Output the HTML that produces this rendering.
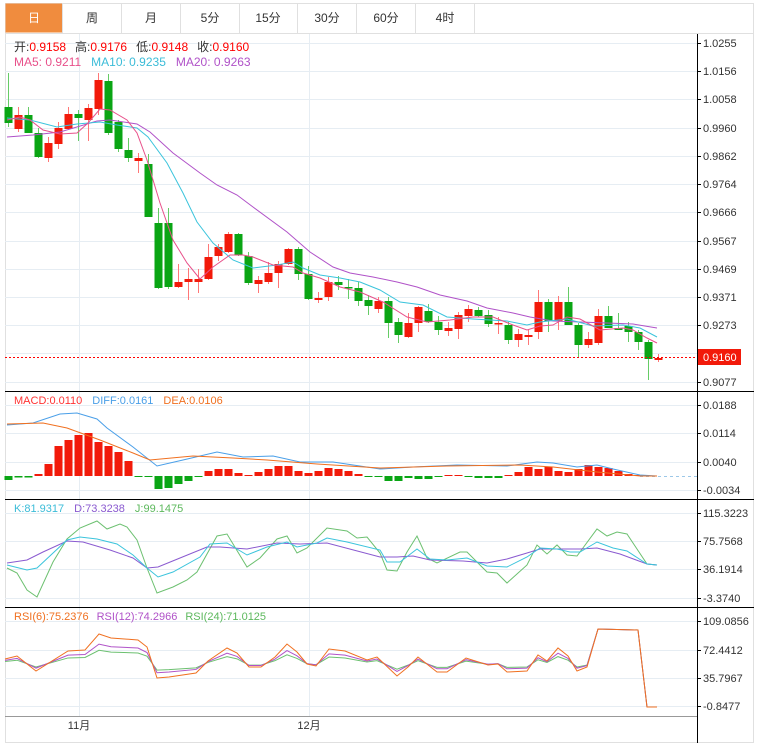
<!DOCTYPE html>
<html><head><meta charset="utf-8"><style>
body{margin:0;background:#fff;width:758px;height:743px;overflow:hidden;font-family:"Liberation Sans","Noto Sans CJK SC",sans-serif}
svg{position:absolute;left:0;top:0}
text{font-family:"Liberation Sans","Noto Sans CJK SC",sans-serif;font-size:11px}
</style></head><body>
<svg id="s" width="758" height="743" xmlns="http://www.w3.org/2000/svg">
<rect x="5.5" y="3.5" width="748" height="739" fill="#fff" stroke="#e0e0e0"/>
<rect x="5.5" y="3.5" width="57" height="29" fill="#f08c3e"/>
<g stroke="#e0e0e0"><line x1="5" y1="33.5" x2="754" y2="33.5"/>
<line x1="62.5" y1="3" x2="62.5" y2="33"/><line x1="121.5" y1="3" x2="121.5" y2="33"/><line x1="180.5" y1="3" x2="180.5" y2="33"/><line x1="239.5" y1="3" x2="239.5" y2="33"/><line x1="297.5" y1="3" x2="297.5" y2="33"/><line x1="356.5" y1="3" x2="356.5" y2="33"/><line x1="415.5" y1="3" x2="415.5" y2="33"/><line x1="474.5" y1="3" x2="474.5" y2="33"/></g>
<g text-anchor="middle"><text x="34" y="22" fill="#fff" style="font-size:12px">日</text><text x="92" y="22" fill="#333" style="font-size:12px">周</text><text x="151" y="22" fill="#333" style="font-size:12px">月</text><text x="210" y="22" fill="#333" style="font-size:12px">5分</text><text x="268" y="22" fill="#333" style="font-size:12px">15分</text><text x="327" y="22" fill="#333" style="font-size:12px">30分</text><text x="386" y="22" fill="#333" style="font-size:12px">60分</text><text x="445" y="22" fill="#333" style="font-size:12px">4时</text></g>
<g id="grid" stroke="#e6edf3"></g>
<g id="plot"></g>
<g stroke="#000"><line x1="697.5" y1="34" x2="697.5" y2="743"/>
<line x1="5" y1="391.5" x2="754" y2="391.5"/><line x1="5" y1="499.5" x2="754" y2="499.5"/><line x1="5" y1="607.5" x2="754" y2="607.5"/></g>
<line x1="5" y1="716.5" x2="697" y2="716.5" stroke="#999"/>
<g id="ax" fill="#333"></g>
<text x="14" y="51" fill="#333" style="font-size:12px">开:<tspan fill="#f00">0.9158</tspan><tspan dx="9">高:</tspan><tspan fill="#f00">0.9176</tspan><tspan dx="9">低:</tspan><tspan fill="#f00">0.9148</tspan><tspan dx="9">收:</tspan><tspan fill="#f00">0.9160</tspan></text>
<text x="14" y="66" fill="#e8508a" style="font-size:12px">MA5: 0.9211<tspan fill="#3bbcd8" dx="10">MA10: 0.9235</tspan><tspan fill="#b052c8" dx="10">MA20: 0.9263</tspan></text>
<text x="14" y="404" fill="#f33">MACD:0.0110<tspan fill="#4a9fe8" dx="10">DIFF:0.0161</tspan><tspan fill="#f07020" dx="10">DEA:0.0106</tspan></text>
<text x="14" y="512" fill="#3bbcd8">K:81.9317<tspan fill="#8a5ad0" dx="10">D:73.3238</tspan><tspan fill="#5cb85c" dx="10">J:99.1475</tspan></text>
<text x="14" y="620" fill="#f07020">RSI(6):75.2376<tspan fill="#b052c8" dx="8">RSI(12):74.2966</tspan><tspan fill="#5cb85c" dx="8">RSI(24):71.0125</tspan></text>
<text x="79" y="729" text-anchor="middle" fill="#333">11月</text><text x="309" y="729" text-anchor="middle" fill="#333">12月</text>
</svg>
<script>
var NS="http://www.w3.org/2000/svg";
function el(p,t,a){var e=document.createElementNS(NS,t);for(var k in a)e.setAttribute(k,a[k]);document.getElementById(p).appendChild(e);return e;}
var grid=[43,71,99,128,156,184,212,241,269,297,325,353,382,405,433,462,490,513,541,569,598,621,650,678,706];
grid.forEach(function(y){el("grid","line",{x1:5,x2:697,y1:y+.5,y2:y+.5});});
[79,309].forEach(function(x){el("grid","line",{x1:x+.5,x2:x+.5,y1:34,y2:716});});
var labs=[[43,"1.0255"],[71,"1.0156"],[99,"1.0058"],[128,"0.9960"],[156,"0.9862"],[184,"0.9764"],[212,"0.9666"],[241,"0.9567"],[269,"0.9469"],[297,"0.9371"],[325,"0.9273"],[382,"0.9077"],[405,"0.0188"],[433,"0.0114"],[462,"0.0040"],[490,"-0.0034"],[513,"115.3223"],[541,"75.7568"],[569,"36.1914"],[598,"-3.3740"],[621,"109.0856"],[650,"72.4412"],[678,"35.7967"],[706,"-0.8477"]];
labs.forEach(function(l){el("ax","line",{x1:697,x2:701,y1:l[0]+.5,y2:l[0]+.5,stroke:"#000"});var t=el("ax","text",{x:703,y:l[0]+4});t.textContent=l[1];});
var C=[["G",107,123,73,127],["R",115,129,107,132],["G",115,133,107,133],["G",133,157,128,158],["R",143,158,137,162],["R",128,144,122,149],["R",114,129,107,130],["G",114,118,110,141],["R",108,120,104,141],["R",80,109,73,115],["G",81,133,74,135],["G",122,149,120,152],["G",150,158,138,162],["R",158,161,153,173],["G",164,217,154,217],["G",223,288,208,289],["G",223,287,208,289],["R",282,287,264,288],["R",279,282,268,300],["R",279,282,269,293],["R",257,279,244,280],["R",247,256,244,261],["R",234,252,232,253],["G",234,255,233,256],["G",256,283,252,285],["R",280,284,276,293],["R",273,282,262,284],["R",264,273,261,288],["R",249,264,248,265],["G",249,274,247,280],["G",274,299,266,300],["R",298,300,292,303],["R",282,297,277,301],["G",282,285,276,290],["G",287,288,279,299],["G",288,301,282,306],["G",300,306,295,315],["R",301,309,297,313],["G",301,323,297,338],["G",322,335,318,343],["R",323,337,313,338],["R",307,323,306,332],["G",311,322,304,323],["G",322,330,316,335],["R",328,331,322,336],["R",315,329,312,339],["R",309,316,305,322],["G",310,316,307,317],["G",315,324,310,327],["R",323,324,317,334],["G",325,340,322,344],["R",334,340,329,347],["R",335,337,330,345],["R",302,332,290,339],["G",302,321,299,332],["R",302,321,296,330],["G",302,325,287,325],["G",325,345,323,357],["R",339,345,332,348],["R",316,343,309,345],["G",316,328,306,328],["G",328,330,313,330],["G",326,332,322,342],["G",332,342,330,350],["G",342,359,340,380],["R",358,360,354,362]];
C.forEach(function(c,i){var x=8.5+10*i,col=c[0]=="R"?"#f21a0a":"#0aa514",wc=c[0]=="R"?"#f77":"#6c6";
el("plot","line",{x1:x,x2:x,y1:c[3],y2:c[4],stroke:wc});
el("plot","rect",{x:x-4,y:c[1],width:8,height:Math.max(1.5,c[2]-c[1]),fill:col});});
function pl(pts,col,w,dash){var a={points:pts.map(function(p){return p.join(",")}).join(" "),fill:"none",stroke:col,"stroke-width":w||1};if(dash)a["stroke-dasharray"]=dash;el("plot","polyline",a);}
pl([[7,137],[33,135],[60,132],[97,121],[110,120],[137,124],[150,132],[173,153],[200,173],[217,185],[237,195],[253,207],[287,232],[310,252],[333,267],[350,273],[373,277],[397,282],[417,287],[440,295],[467,301],[487,308],[513,313],[530,317],[553,321],[580,322],[607,323],[633,324],[657,328]],"#b052c8");
pl([[7,118],[30,120],[57,127],[77,124],[100,122],[117,125],[137,128],[148,137],[167,163],[183,193],[197,222],[213,243],[233,260],[253,268],[277,265],[293,262],[303,268],[320,275],[340,278],[360,282],[380,290],[400,302],[423,305],[447,317],[473,319],[507,321],[527,325],[540,322],[567,319],[593,326],[623,325],[640,328],[657,337]],"#3bc4dc");
pl([[7,120],[20,117],[30,120],[43,130],[60,134],[77,133],[88,123],[100,109],[110,110],[127,120],[137,133],[147,160],[160,203],[173,240],[187,263],[200,279],[213,267],[230,255],[243,255],[253,257],[273,265],[293,267],[303,273],[320,278],[340,287],[360,292],[383,302],[407,317],[427,322],[450,320],[473,317],[493,317],[513,325],[527,330],[540,326],[553,325],[567,317],[580,319],[600,330],[623,328],[633,330],[647,338],[657,343]],"#e8508a");
el("plot","line",{x1:5,x2:697,y1:357.5,y2:357.5,stroke:"#f00","stroke-dasharray":"2,2"});
el("plot","rect",{x:697,y:349,width:44,height:16,fill:"#f21a0a"});
var t=el("plot","text",{x:703,y:361,fill:"#fff"});t.textContent="0.9160";
var Z=476;
var M={0:480,1:477.5,2:477.5,3:474,4:464,5:446,6:440,7:435,8:433,9:442,10:446,11:452,12:461,13:476,14:477,15:489,16:488,17:484,18:481,19:477,20:471,21:469,22:469,23:473,24:475,25:472,26:469,27:466,28:466,29:471,30:473,31:471,32:468,33:469,34:471,35:474,36:476,37:476,38:481,39:481,40:478,41:479,42:479,43:477,44:475,45:475,46:476,47:478,48:478,49:478,50:475,51:472,52:467,53:469,54:467,55:471,56:472,57:469,58:465,59:467,60:468,61:471,62:474,63:475};
for(var i in M){var y=M[i],x=8.5+10*i;var up=y<Z;el("plot","rect",{x:x-4,y:up?y:Z,width:8,height:Math.max(1,Math.abs(y-Z)),fill:up?"#f21a0a":"#0aa514"});}
el("plot","line",{x1:640,x2:697,y1:Z+.5,y2:Z+.5,stroke:"#9cc8e8","stroke-dasharray":"3,3"});
pl([[7,425],[33,423],[60,414],[77,413],[97,419],[107,428],[133,447],[157,466],[183,460],[217,452],[243,457],[273,456],[300,462],[333,462],[380,469],[413,467],[457,465],[507,466],[537,462],[553,463],[577,467],[597,465],[613,469],[640,475],[657,476]],"#4a9fe8");
pl([[7,424],[43,423],[67,428],[100,440],[133,453],[150,460],[193,456],[233,458],[267,460],[317,464],[380,468],[447,466],[520,465],[553,467],[597,472],[640,476],[657,476]],"#f07020");
pl([[7,568],[17,573],[27,590],[37,597],[53,562],[67,539],[80,528],[97,521],[107,529],[120,524],[127,527],[137,540],[147,568],[157,593],[173,587],[187,580],[197,572],[217,536],[227,534],[247,567],[260,558],[277,539],[287,536],[297,553],[307,548],[327,528],[347,531],[357,538],[367,537],[380,553],[387,570],[397,571],[407,552],[417,536],[427,558],[437,563],[460,552],[467,552],[487,572],[497,573],[507,583],[527,565],[537,545],[547,554],[557,545],[567,555],[577,556],[597,529],[607,536],[617,532],[627,534],[647,564],[657,565]],"#6cc070");
pl([[7,563],[27,560],[43,552],[67,541],[83,542],[110,550],[133,558],[147,568],[158,567],[180,558],[207,547],[220,547],[247,549],[277,543],[300,544],[327,543],[380,557],[397,557],[413,556],[430,560],[463,561],[487,563],[507,559],[527,553],[540,549],[580,549],[597,548],[620,554],[647,564],[657,565]],"#8a5ad0");
pl([[7,565],[27,570],[37,568],[67,540],[80,537],[97,539],[117,544],[133,555],[147,568],[158,577],[173,572],[200,557],[210,544],[227,543],[247,555],[267,547],[287,542],[297,547],[317,543],[327,538],[347,542],[380,550],[387,562],[400,562],[417,549],[430,559],[447,560],[467,558],[487,566],[507,567],[527,557],[540,548],[557,549],[570,552],[580,552],[597,542],[613,548],[627,551],[647,564],[657,565]],"#3bc4dc");
var R=[[5,659],[17,656],[36,671],[68,651],[85,650],[99,634],[111,638],[138,640],[147,647],[157,678],[169,677],[196,673],[208,661],[227,648],[237,653],[249,667],[261,667],[275,657],[287,644],[297,652],[307,664],[316,666],[329,649],[345,651],[367,660],[377,657],[397,676],[408,667],[418,657],[437,672],[447,672],[466,658],[488,665],[498,664],[507,672],[527,671],[538,655],[547,661],[558,648],[568,656],[577,671],[587,667],[598,629],[638,630],[647,707],[657,707]];
function damp(f,m){return R.map(function(p){return p[0]<598?[p[0],m+(p[1]-660)*f]:p;});}
pl(damp(0.45,662),"#6cc070");
pl(damp(0.65,661),"#b052c8");
pl(R,"#f07020");
</script>
</body></html>
